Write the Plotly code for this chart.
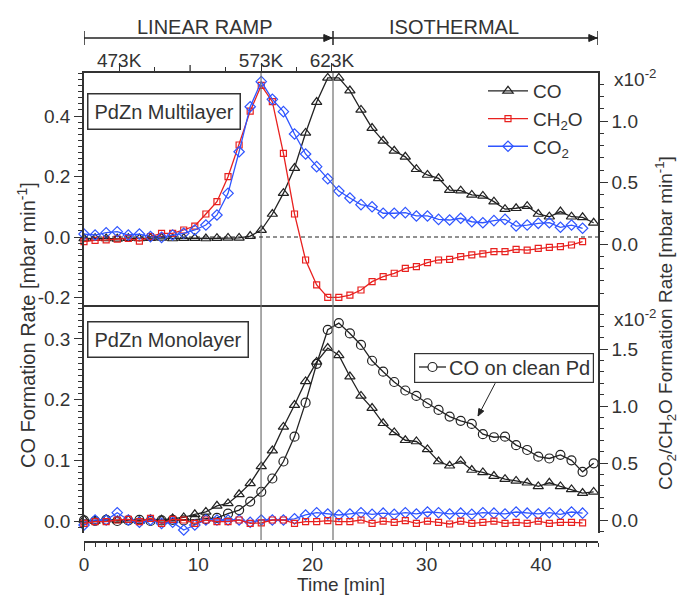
import math
import plotly.graph_objects as go

# ---------------- data ----------------
time_min = [0.0, 0.97, 1.94, 2.91, 3.88, 4.85, 5.82, 6.79, 7.76, 8.73, 9.7, 10.67,
            11.64, 12.61, 13.58, 14.55, 15.52, 16.49, 17.46, 18.43, 19.4, 20.37,
            21.34, 22.31, 23.28, 24.25, 25.22, 26.19, 27.16, 28.13, 29.1, 30.07,
            31.04, 32.01, 32.98, 33.95, 34.92, 35.89, 36.86, 37.83, 38.8, 39.77,
            40.74, 41.71, 42.68, 43.65, 44.62]

# PdZn multilayer (top panel)
co_multi = [-0.005, -0.004, -0.005, -0.006, -0.004, -0.005, -0.004, -0.003, -0.005,
            -0.004, -0.004, -0.005, -0.004, -0.003, -0.003, 0.003, 0.023, 0.076,
            0.145, 0.228, 0.344, 0.446, 0.526, 0.526, 0.484, 0.42, 0.36, 0.318,
            0.285, 0.265, 0.224, 0.205, 0.194, 0.155, 0.153, 0.139, 0.136, 0.117,
            0.092, 0.095, 0.102, 0.076, 0.067, 0.084, 0.067, 0.065, 0.047]
ch2o_multi_e2 = [0.02, 0.03, 0.033, 0.04, 0.046, 0.024, 0.06, 0.087, 0.087, 0.114,
                 0.146, 0.244, 0.344, 0.547, 0.805, 1.08, 1.29, 1.157, 0.737, 0.244,
                 -0.13, -0.333, -0.434, -0.434, -0.415, -0.374, -0.306, -0.266, -0.238, -0.198,
                 -0.184, -0.152, -0.13, -0.125, -0.103, -0.089, -0.081, -0.062, -0.062, -0.043,
                 -0.049, -0.035, -0.027, -0.022, -0.008, 0.019]
co2_multi_e2 = [0.081, 0.073, 0.092, 0.1, 0.073, 0.081, 0.06, 0.054, 0.073, 0.087,
                0.114, 0.154, 0.236, 0.412, 0.75, 1.116, 1.32, 1.176, 1.076, 0.894,
                0.732, 0.629, 0.53, 0.43, 0.374, 0.32, 0.303, 0.25, 0.25, 0.255,
                0.228, 0.228, 0.2, 0.195, 0.209, 0.181, 0.173, 0.19, 0.2, 0.146,
                0.154, 0.168, 0.173, 0.136, 0.154, 0.128]

# PdZn monolayer (bottom panel)
co_mono = [0.002, 0.0, 0.003, 0.001, 0.002, 0.0, 0.003, 0.002, 0.004, 0.006,
           0.011, 0.015, 0.025, 0.029, 0.044, 0.062, 0.09, 0.116, 0.155, 0.191,
           0.23, 0.262, 0.285, 0.273, 0.238, 0.206, 0.186, 0.161, 0.146, 0.133,
           0.131, 0.118, 0.098, 0.091, 0.099, 0.084, 0.08, 0.074, 0.069, 0.066,
           0.063, 0.057, 0.063, 0.057, 0.052, 0.046, 0.048]
co_clean_pd = [0.001, 0.0, 0.002, 0.0, 0.001, 0.002, 0.0, 0.001, 0.002, 0.001,
               0.002, 0.003, 0.005, 0.012, 0.018, 0.032, 0.048, 0.07, 0.098, 0.139,
               0.195, 0.259, 0.315, 0.326, 0.309, 0.29, 0.264, 0.246, 0.229, 0.215,
               0.206, 0.194, 0.183, 0.172, 0.165, 0.16, 0.143, 0.138, 0.139, 0.125,
               0.117, 0.106, 0.103, 0.109, 0.1, 0.081, 0.095]
co2_mono_e2 = [-0.044, 0.0, 0.0, 0.064, 0.0, -0.02, 0.0, -0.03, -0.02, -0.088,
               -0.044, 0.0, 0.0, 0.0, 0.0, -0.02, 0.0, 0.0, 0.0, 0.01,
               0.044, 0.064, 0.053, 0.044, 0.053, 0.064, 0.05, 0.06, 0.05, 0.064,
               0.053, 0.07, 0.064, 0.053, 0.06, 0.05, 0.064, 0.06, 0.053, 0.07,
               0.06, 0.053, 0.064, 0.05, 0.07, 0.06]
ch2o_mono_e2 = [-0.03, -0.015, -0.015, 0.0, 0.006, -0.015, 0.015, -0.03, 0.006, 0.0,
                -0.03, 0.0, -0.015, -0.015, 0.0, -0.03, -0.025, 0.0, 0.0, -0.03,
                -0.015, -0.015, -0.005, -0.015, -0.015, 0.0, -0.03, -0.01, -0.02, -0.005,
                -0.03, -0.01, -0.02, -0.035, -0.01, -0.03, -0.02, -0.01, -0.03, -0.02,
                -0.03, -0.01, -0.03, -0.02, -0.02, -0.025]

# temperature programme
ramp_end_min = 21.8
t_573_min = 15.5
ramp_rate_K_per_min = 8.05
temp_labeled_K = [473, 573, 623]
temp_labels = ["473K", "573K", "623K"]
temp_unlabeled_K = [523]
temp_minor_K = [498, 548, 598]

x_ticks = [0, 10, 20, 30, 40]

# pointer (CO on clean Pd label -> curve), in data units
pointer_tail = (36.0, 0.227)
pointer_tip = (34.5, 0.173)

# ---------------- style / geometry ----------------
FONT = "Liberation Sans, Arial, sans-serif"
TXT = "#333333"
AX = "#333333"
BLACK = "#222222"
RED = "#e8211f"
BLUE = "#2f55ff"
FS_TICK = 19
FS = 20
FS_LEG = 19

OFF = 8                       # default body margin of the html page
W, H = 689 - 2 * OFF, 603 - 2 * OFF
# plot area in page pixels: x 84..598, y 73..542
ML = 84 - OFF
MR = W - (598 - OFF)
MT = 73 - OFF
MB = H - (542 - OFF)
PW = W - ML - MR
PH = H - MT - MB
PX_PER_MIN = PW / 45.0
split_px = 305      # border between panels (page px)
bot_px = 533        # bottom end of lower panel (page px)


def py(page_y):
    return (H - MB - (page_y - OFF)) / PH


def pxx(page_x):
    return (page_x - OFF - ML) / PW


fig = go.Figure()


def tr(x, y, name, color, symbol, size, xa, ya, show=False):
    fig.add_trace(go.Scatter(
        x=x[:len(y)], y=y, name=name, mode="lines+markers",
        line=dict(color=color, width=1.3),
        marker=dict(symbol=symbol, size=size, color=color, line=dict(color=color, width=1.2)),
        xaxis=xa, yaxis=ya, showlegend=show, cliponaxis=False))


# top panel
tr(time_min, co_multi, "CO", BLACK, "triangle-up-open", 9, "x2", "y", True)
tr(time_min, ch2o_multi_e2, "CH<sub>2</sub>O", RED, "square-open", 6, "x2", "y2", True)
tr(time_min, co2_multi_e2, "CO<sub>2</sub>", BLUE, "diamond-open", 8, "x2", "y2", True)
# bottom panel
tr(time_min, co2_mono_e2, "CO2 mono", BLUE, "diamond-open", 8, "x", "y4")
tr(time_min, ch2o_mono_e2, "CH2O mono", RED, "square-open", 6, "x", "y4")
tr(time_min, co_mono, "CO mono", BLACK, "triangle-up-open", 9, "x", "y3")
tr(time_min, co_clean_pd, "CO on clean Pd", BLACK, "circle-open", 9, "x", "y3")

T0 = 573 - t_573_min * ramp_rate_K_per_min
temp_range = [T0, T0 + 45 * ramp_rate_K_per_min]
# empty trace so that the temperature axis is drawn
fig.add_trace(go.Scatter(x=temp_labeled_K, y=[None] * len(temp_labeled_K), xaxis="x3", yaxis="y",
                         showlegend=False, hoverinfo="skip", mode="lines"))

axis_common = dict(showline=True, linecolor=AX, linewidth=1.5, showgrid=False, zeroline=False,
                   tickcolor=AX, tickwidth=1.3, tickfont=dict(family=FONT, size=FS_TICK, color=TXT))

top_dom = [py(split_px), 1.0]
bot_dom = [py(bot_px), py(split_px)]

# axis value <-> page pixel relations
top_left = dict(zero=237, per_unit=302.5)
top_right = dict(zero=244, per_unit=123)
bot_left = dict(zero=521, per_unit=607)
bot_right = dict(zero=520, per_unit=114)


def rng(ax, lo_px, hi_px):
    return [(ax["zero"] - lo_px) / ax["per_unit"], (ax["zero"] - hi_px) / ax["per_unit"]]


fig.update_layout(
    width=W, height=H, margin=dict(l=ML, r=MR, t=MT, b=MB, autoexpand=False),
    paper_bgcolor="white", plot_bgcolor="white",
    font=dict(family=FONT, size=FS, color=TXT),
    xaxis=dict(**axis_common, range=[0, 45], anchor="free", position=0, domain=[0, 1],
               ticks="outside", ticklen=8, tickvals=x_ticks, ticklabelstandoff=-3,
               minor=dict(dtick=1, ticklen=4, ticks="outside", tickcolor=AX),
               title=dict(text="Time [min]", font=dict(size=19, family=FONT, color=TXT), standoff=7)),
    xaxis2=dict(**axis_common, range=[0, 45], anchor="y", domain=[0, 1], mirror=True,
                ticks="", showticklabels=False, matches="x"),
    xaxis3=dict(**axis_common, range=temp_range, overlaying="x2", side="top", anchor="y",
                ticks="outside", ticklen=8, tickvals=temp_labeled_K, ticktext=temp_labels,
                ticklabelstandoff=-11,
                minor=dict(tickvals=temp_minor_K, ticklen=4, ticks="outside", tickcolor=AX)),
    yaxis=dict(**axis_common, domain=top_dom, anchor="x2", range=rng(top_left, split_px, 73),
               ticks="outside", ticklen=8, tickvals=[-0.2, 0, 0.2, 0.4],
               ticktext=["-0.2", "0.0", "0.2", "0.4"],
               minor=dict(dtick=0.02, ticklen=4, ticks="outside", tickcolor=AX)),
    yaxis2=dict(**axis_common, overlaying="y", side="right", anchor="x2", range=rng(top_right, split_px, 73),
                ticks="outside", ticklen=8, tickvals=[0, 0.5, 1.0], ticktext=["0.0", "0.5", "1.0"],
                minor=dict(dtick=0.1, ticklen=4, ticks="outside", tickcolor=AX)),
    yaxis3=dict(**axis_common, domain=bot_dom, anchor="x", range=rng(bot_left, bot_px, split_px),
                ticks="outside", ticklen=8, tickvals=[0, 0.1, 0.2, 0.3],
                ticktext=["0.0", "0.1", "0.2", "0.3"],
                minor=dict(dtick=0.01, ticklen=4, ticks="outside", tickcolor=AX)),
    yaxis4=dict(**axis_common, overlaying="y3", side="right", anchor="x", range=rng(bot_right, bot_px, split_px),
                ticks="outside", ticklen=8, tickvals=[0, 0.5, 1.0, 1.5],
                ticktext=["0.0", "0.5", "1.0", "1.5"],
                minor=dict(dtick=0.1, ticklen=4, ticks="outside", tickcolor=AX)),
    legend=dict(x=pxx(483), y=py(72), xanchor="left", yanchor="top", bgcolor="rgba(0,0,0,0)",
                font=dict(family=FONT, size=FS_LEG, color=TXT), tracegroupgap=0, itemwidth=40),
)

shapes = []
# vertical reference lines
for xv in [t_573_min, ramp_end_min]:
    shapes.append(dict(type="line", xref="x2", yref="paper", x0=xv, x1=xv, y0=py(540), y1=1,
                       line=dict(color="#707070", width=1.2)))
# dashed zero line (top panel)
shapes.append(dict(type="line", xref="paper", yref="y", x0=0, x1=1, y0=0, y1=0,
                   line=dict(color=BLACK, width=1, dash="4px,3px")))
# unlabeled major temperature tick
for tk in temp_unlabeled_K:
    tv = (tk - T0) / ramp_rate_K_per_min
    shapes.append(dict(type="line", xref="x2", yref="paper", x0=tv, x1=tv, y0=1, y1=py(73 - 8),
                       line=dict(color=AX, width=1.3)))
# ramp / isothermal bars
y_bar = py(38)
shapes.append(dict(type="line", xref="x2", yref="paper", x0=0, x1=45, y0=y_bar, y1=y_bar,
                   line=dict(color=BLACK, width=1.5)))
for xv in [0, ramp_end_min, 45]:
    shapes.append(dict(type="line", xref="x2", yref="paper", x0=xv, x1=xv, y0=py(31), y1=py(45),
                       line=dict(color=BLACK, width=1.5)))
# arrowheads on the bars
head_len = 8 / PX_PER_MIN
for xv in [ramp_end_min, 45]:
    tip = xv - 1.2 / PX_PER_MIN
    shapes.append(dict(type="path", xref="x2", yref="paper",
                       path=f"M {tip},{y_bar} L {tip - head_len},{py(38 - 3.5)} L {tip - head_len},{py(38 + 3.5)} Z",
                       fillcolor=BLACK, line=dict(color=BLACK, width=1)))
# pointer arrow
shapes.append(dict(type="line", xref="x", yref="y3", x0=pointer_tail[0], y0=pointer_tail[1],
                   x1=pointer_tip[0], y1=pointer_tip[1], line=dict(color=BLACK, width=1)))
dxp = (pointer_tip[0] - pointer_tail[0]) * PX_PER_MIN
dyp = -(pointer_tip[1] - pointer_tail[1]) * bot_left["per_unit"]
L = math.hypot(dxp, dyp)
ux, uy = dxp / L, dyp / L
nx, ny = -uy, ux
bx, by = -7 * ux, -7 * uy
pts = [(0, 0), (bx + 2.8 * nx, by + 2.8 * ny), (bx - 2.8 * nx, by - 2.8 * ny)]
pts_d = [(pointer_tip[0] + a / PX_PER_MIN, pointer_tip[1] - b / bot_left["per_unit"]) for a, b in pts]
shapes.append(dict(type="path", xref="x", yref="y3",
                   path="M {},{} L {},{} L {},{} Z".format(*[v for p in pts_d for v in p]),
                   fillcolor=BLACK, line=dict(color=BLACK, width=1)))
# "CO on clean Pd" key symbol (line with open circle)
key_y = py(367)
shapes.append(dict(type="line", xref="paper", yref="paper", x0=pxx(419), x1=pxx(446), y0=key_y, y1=key_y,
                   line=dict(color=BLACK, width=1.3), layer="above"))
shapes.append(dict(type="circle", xref="paper", yref="paper", x0=pxx(428), x1=pxx(437),
                   y0=py(371.5), y1=py(362.5), fillcolor="white", line=dict(color=BLACK, width=1.2),
                   layer="above"))
fig.update_layout(shapes=shapes)

ann = []
ann.append(dict(xref="x2", yref="paper", x=10.6, y=py(27), xanchor="center", yanchor="middle",
                text="LINEAR RAMP", showarrow=False, font=dict(size=FS, family=FONT, color=TXT)))
ann.append(dict(xref="x2", yref="paper", x=32.4, y=py(27), xanchor="center", yanchor="middle",
                text="ISOTHERMAL", showarrow=False, font=dict(size=FS, family=FONT, color=TXT)))
# panel labels
ann.append(dict(xref="paper", yref="paper", x=pxx(87), y=py(93), xanchor="left", yanchor="top",
                text="PdZn Multilayer", showarrow=False, bordercolor=AX, borderwidth=1.5, borderpad=6,
                bgcolor="white", font=dict(size=FS, family=FONT, color=TXT)))
ann.append(dict(xref="paper", yref="paper", x=pxx(87), y=py(321), xanchor="left", yanchor="top",
                text="PdZn Monolayer", showarrow=False, bordercolor=AX, borderwidth=1.5, borderpad=6,
                bgcolor="white", font=dict(size=FS, family=FONT, color=TXT)))
# "CO on clean Pd" boxed key (transparent so the key symbol stays visible)
ann.append(dict(xref="paper", yref="paper", x=pxx(414), y=py(353), xanchor="left", yanchor="top",
                text="CO on clean Pd", showarrow=False, bordercolor=AX, borderwidth=1.2, borderpad=3,
                width=172, align="right", bgcolor="rgba(0,0,0,0)",
                font=dict(size=FS, family=FONT, color=TXT)))
# x10^-2 labels
for ypx in [78, 318]:
    ann.append(dict(xref="paper", yref="paper", x=pxx(612), y=py(ypx), xanchor="left", yanchor="middle",
                    text="x10<sup>-2</sup>", showarrow=False, font=dict(size=FS_TICK, family=FONT, color=TXT)))
# axis titles
ann.append(dict(xref="paper", yref="paper", x=pxx(26), y=py(325), xanchor="center", yanchor="middle",
                textangle=-90, text="CO Formation Rate [mbar min<sup>-1</sup>]", showarrow=False,
                font=dict(size=FS, family=FONT, color=TXT)))
ann.append(dict(xref="paper", yref="paper", x=pxx(665), y=py(323), xanchor="center", yanchor="middle",
                textangle=-90,
                text="CO<sub>2</sub>/CH<sub>2</sub>O Formation Rate [mbar min<sup>-1</sup>]", showarrow=False,
                font=dict(size=19, family=FONT, color=TXT)))
fig.update_layout(annotations=ann)

fig.write_html("out.html")
